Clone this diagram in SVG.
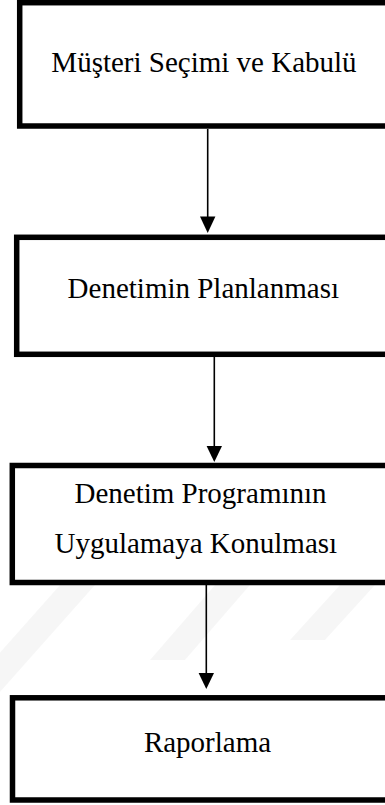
<svg xmlns="http://www.w3.org/2000/svg" width="385" height="805" viewBox="0 0 385 805">
  <style>
    .box { fill: #ffffff; stroke: #000000; stroke-width: 5.5; }
    .lbl { font-family: "Liberation Serif", "Times New Roman", serif; font-size: 29px; fill: #000000; text-anchor: middle; }
    .conn { stroke: #000000; stroke-width: 1.6; fill: none; }
    .head { fill: #000000; }
    .wm { fill: #000000; fill-opacity: 0.035; }
  </style>
  <defs>
    <clipPath id="wmclip"><rect x="0" y="585" width="385" height="220"/></clipPath>
  </defs>
  <rect x="0" y="0" width="385" height="805" fill="#ffffff"/>
  <g id="connectors">
    <line class="conn" x1="207.7" y1="129" x2="207.7" y2="218"/>
    <polygon class="head" points="200,216.5 215.4,216.5 207.7,233"/>
    <line class="conn" x1="214.3" y1="357" x2="214.3" y2="447"/>
    <polygon class="head" points="206.6,446 222,446 214.3,462"/>
    <line class="conn" x1="206.3" y1="585" x2="206.3" y2="674"/>
    <polygon class="head" points="198.6,673 214,673 206.3,689"/>
  </g>
  <g id="node1">
    <rect class="box" x="19.7" y="2.7" width="400" height="123.3"/>
    <text class="lbl" x="204" y="72">Müşteri Seçimi ve Kabulü</text>
  </g>
  <g id="node2">
    <rect class="box" x="16.7" y="237.3" width="400" height="117"/>
    <text class="lbl" x="203.3" y="298.3">Denetimin Planlanması</text>
  </g>
  <g id="node3">
    <rect class="box" x="12.3" y="465.5" width="400" height="117"/>
    <text class="lbl" x="200.5" y="503.3">Denetim Programının</text>
    <text class="lbl" x="195.8" y="553.3">Uygulamaya Konulması</text>
  </g>
  <g id="node4">
    <rect class="box" x="12.5" y="697.8" width="400" height="102.2"/>
    <text class="lbl" x="207.5" y="751.7">Raporlama</text>
  </g>
  <g id="watermark" clip-path="url(#wmclip)">
    <polygon class="wm" points="-60,720 60,585 95,585 -25,720"/>
    <polygon class="wm" points="150,660 215,585 250,585 185,660"/>
    <polygon class="wm" points="290,640 340,585 375,585 325,640"/>
  </g>
</svg>
